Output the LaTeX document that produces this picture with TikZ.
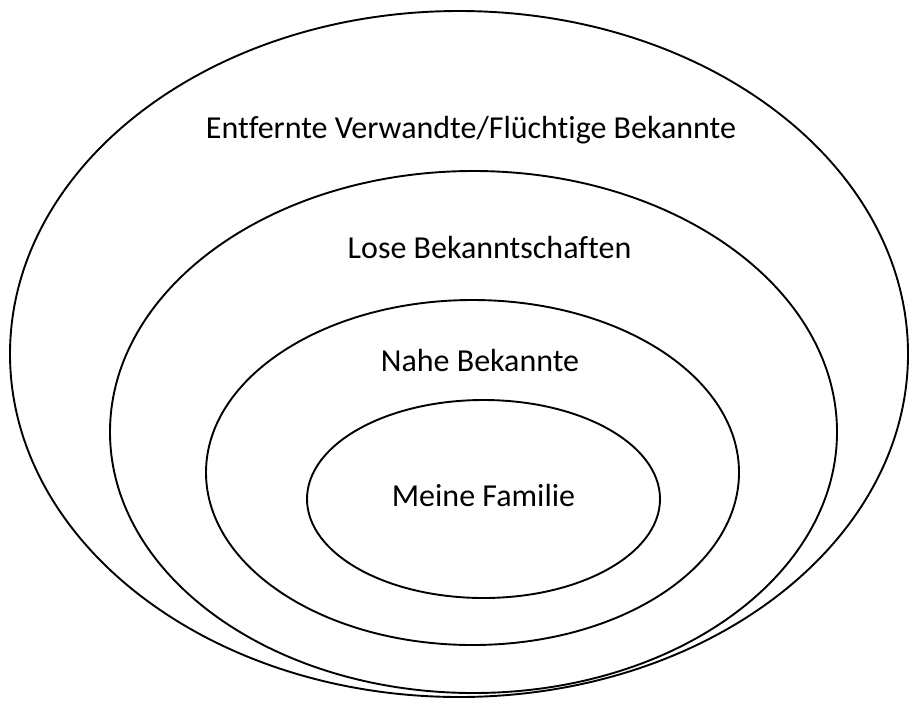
\documentclass[tikz,border=0pt]{standalone}
\usepackage{fontspec}
\setmainfont{Carlito}[Ligatures=NoCommon]
\begin{document}
\begin{tikzpicture}[x=1pt,y=-1pt,
  ring/.style={draw=black,line width=1.9pt},
  lbl/.style={font=\fontsize{32}{38}\selectfont,inner sep=0pt,anchor=center}]
\useasboundingbox[fill=white] (0,0) rectangle (909,702);
% nested circles of acquaintance
\draw[ring] (459,354) ellipse [x radius=449, y radius=343];
\draw[ring] (473.5,432) ellipse [x radius=363.5, y radius=261];
\draw[ring] (472.5,472.5) ellipse [x radius=266.5, y radius=172.5];
\draw[ring] (483.5,499) ellipse [x radius=176.5, y radius=99];
% labels
\node[lbl] (outer) at (471,130) {Entfernte Verwandte/Flüchtige Bekannte};
\node[lbl] (loose) at (489.5,248) {Lose Bekanntschaften};
\node[lbl] (close) at (480,360) {Nahe Bekannte};
\node[lbl] (family) at (483.5,495) {Meine Familie};
\end{tikzpicture}
\end{document}
